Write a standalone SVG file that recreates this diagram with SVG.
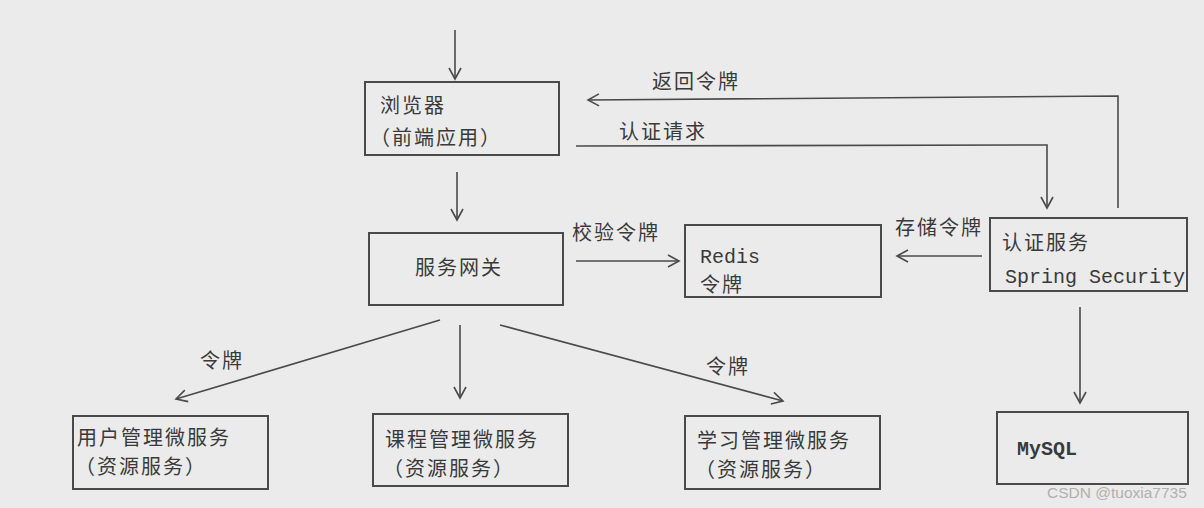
<svg xmlns="http://www.w3.org/2000/svg" width="1204" height="508" viewBox="0 0 1204 508">
<defs>
<marker id="arr" markerWidth="14" markerHeight="14" refX="12" refY="7" orient="auto" markerUnits="userSpaceOnUse">
<path d="M1,1 L12,7 L1,13" fill="none" stroke="#4a4a4a" stroke-width="1.6"/>
</marker>
<style>
.box{fill:none;stroke:#4a4a4a;stroke-width:2}
.cjk{font-family:"Noto Sans CJK SC","Liberation Sans",sans-serif;font-size:20px;fill:#3a3a3a;letter-spacing:2px}
.mono{font-family:"Liberation Mono","DejaVu Sans Mono",monospace;font-size:20px;fill:#3a3a3a}
.ln{fill:none;stroke:#4a4a4a;stroke-width:1.6}
.lbl{font-family:"Noto Sans CJK SC","Liberation Sans",sans-serif;font-size:20px;fill:#3a3a3a;letter-spacing:2px}
</style>
</defs>
<rect x="0" y="0" width="1204" height="508" fill="#ebebeb"/>

<g id="connectors">
<line class="ln" x1="455" y1="30" x2="455" y2="79" marker-end="url(#arr)"/>
<line class="ln" x1="457" y1="172" x2="457" y2="220" marker-end="url(#arr)"/>
<polyline class="ln" points="1118,208 1118,96 588,100" marker-end="url(#arr)"/>
<polyline class="ln" points="576,146 1047,145 1047,208" marker-end="url(#arr)"/>
<line class="ln" x1="576" y1="261" x2="679" y2="261" marker-end="url(#arr)"/>
<line class="ln" x1="982" y1="256" x2="897" y2="256" marker-end="url(#arr)"/>
<line class="ln" x1="1080" y1="307" x2="1080" y2="403" marker-end="url(#arr)"/>
<line class="ln" x1="440" y1="320" x2="176" y2="399" marker-end="url(#arr)"/>
<line class="ln" x1="460" y1="325" x2="460" y2="398" marker-end="url(#arr)"/>
<line class="ln" x1="500" y1="325" x2="783" y2="401" marker-end="url(#arr)"/>
<text class="lbl" x="652" y="89">返回令牌</text>
<text class="lbl" x="619" y="139">认证请求</text>
<text class="lbl" x="572" y="240">校验令牌</text>
<text class="lbl" x="895" y="235">存储令牌</text>
<text class="lbl" x="200" y="368">令牌</text>
<text class="lbl" x="706" y="374">令牌</text>
</g>

<g id="browser">
<rect class="box" x="365" y="82" width="194" height="73"/>
<text class="cjk" x="380" y="113">浏览器</text>
<text class="cjk" x="370" y="145" letter-spacing="0">（前端应用）</text>
</g>

<g id="gateway">
<rect class="box" x="369" y="233" width="194" height="72"/>
<text class="cjk" x="415" y="275">服务网关</text>
</g>

<g id="redis">
<rect class="box" x="685" y="225" width="196" height="72"/>
<text class="mono" x="700" y="263" font-size="19">Redis</text>
<text class="cjk" x="700" y="292">令牌</text>
</g>

<g id="auth">
<rect class="box" x="990" y="218" width="197" height="73"/>
<text class="cjk" x="1002" y="250">认证服务</text>
<text class="mono" x="1005" y="283">Spring Security</text>
</g>

<g id="mysql">
<rect class="box" x="997" y="412" width="191" height="72"/>
<text class="mono" x="1017" y="455" font-weight="bold">MySQL</text>
</g>

<g id="user-service">
<rect class="box" x="73" y="416" width="195" height="73"/>
<text class="cjk" x="77" y="445">用户管理微服务</text>
<text class="cjk" x="75" y="474" letter-spacing="0">（资源服务）</text>
</g>

<g id="course-service">
<rect class="box" x="373" y="414" width="195" height="72"/>
<text class="cjk" x="385" y="447">课程管理微服务</text>
<text class="cjk" x="383" y="476" letter-spacing="0">（资源服务）</text>
</g>

<g id="study-service">
<rect class="box" x="685" y="416" width="195" height="73"/>
<text class="cjk" x="697" y="448">学习管理微服务</text>
<text class="cjk" x="695" y="477" letter-spacing="0">（资源服务）</text>
</g>

<text x="1047" y="498" font-family="Liberation Sans, sans-serif" font-size="15.5" fill="#b0b0b0">CSDN @tuoxia7735</text>
</svg>
